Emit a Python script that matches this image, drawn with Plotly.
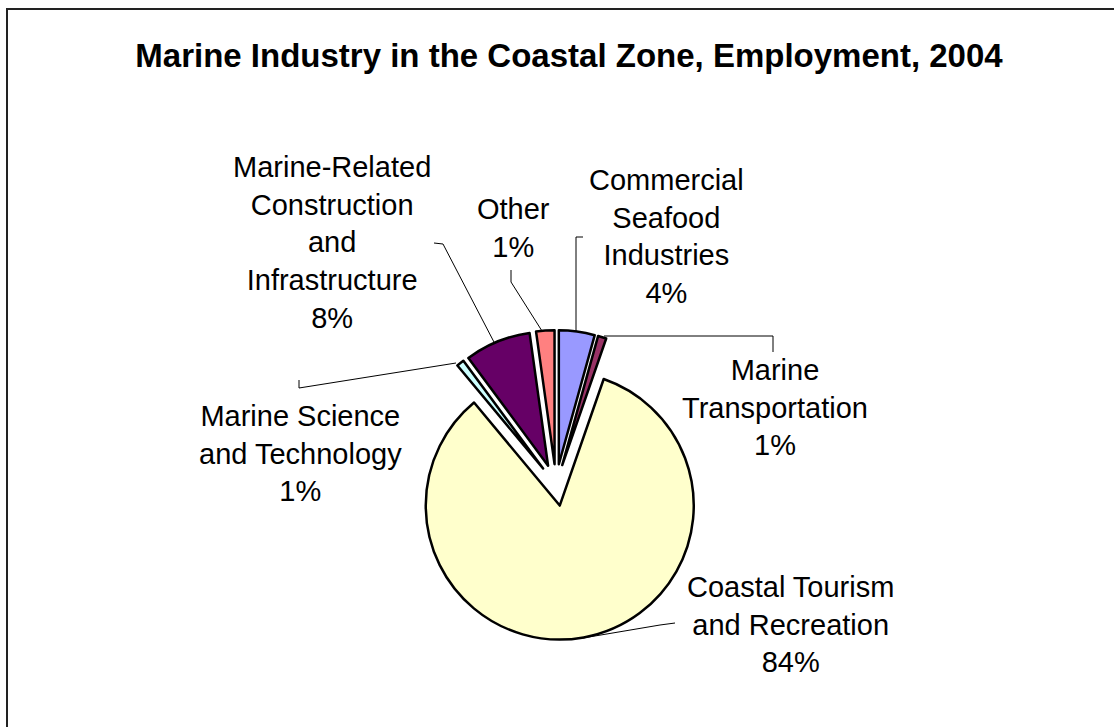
import plotly.graph_objects as go

# ---- data ----
categories = [
    "Commercial Seafood Industries",
    "Marine Transportation",
    "Coastal Tourism and Recreation",
    "Marine Science and Technology",
    "Marine-Related Construction and Infrastructure",
    "Other",
]
values = [4.3, 1.0, 83.3, 0.9, 7.9, 2.2]
label_lines = [
    ["Commercial", "Seafood", "Industries"],
    ["Marine", "Transportation"],
    ["Coastal Tourism", "and Recreation"],
    ["Marine Science", "and Technology"],
    ["Marine-Related", "Construction", "and", "Infrastructure"],
    ["Other"],
]
percent_labels = ["4%", "1%", "84%", "1%", "8%", "1%"]
colors = ["#9999FF", "#993366", "#FFFFCC", "#CCFFFF", "#660066", "#FF8080"]

W, H = 1114, 727


def px(x):
    return x / W


def py(y):
    return 1 - y / H


# pie geometry (pixels)
cx, cy, r, pull = 556, 485, 134, 0.156
box = 2 * r * (1 + pull)

fig = go.Figure(
    go.Pie(
        labels=categories,
        values=values,
        sort=False,
        direction="clockwise",
        rotation=0,
        pull=[pull] * len(values),
        marker=dict(colors=colors, line=dict(color="black", width=2.5)),
        textinfo="none",
        hoverinfo="label+percent",
        domain=dict(
            x=[px(cx - box / 2), px(cx + box / 2)],
            y=[py(cy + box / 2), py(cy - box / 2)],
        ),
        showlegend=False,
    )
)

# label placement (pixel centres of text blocks)
label_pos = [(666, 236), (775, 407), (790, 624), (300, 453), (332, 243), (513, 228)]
annotations = []
for lines, pct, (x, y) in zip(label_lines, percent_labels, label_pos):
    annotations.append(
        dict(
            text="<br>".join(lines + [pct]),
            x=px(x), y=py(y), xref="paper", yref="paper",
            xanchor="center", yanchor="middle", showarrow=False,
            font=dict(family="Liberation Sans, Arial", size=29, color="black"),
        )
    )

# leader lines (pixel paths)
leaders = [
    [(583, 237), (576, 237), (576, 331)],
    [(604, 336), (773, 336), (773, 352)],
    [(675, 623), (660, 625), (583, 638)],
    [(299, 380), (299, 388), (456, 363)],
    [(434, 243), (443, 244), (495, 344)],
    [(511, 270), (511, 282), (542, 331)],
]
shapes = []
for pts in leaders:
    path = "M " + " L ".join(f"{px(x)},{py(y)}" for x, y in pts)
    shapes.append(dict(type="path", path=path, xref="paper", yref="paper",
                       line=dict(color="black", width=1)))

# chart frame
shapes.append(dict(type="rect", xref="paper", yref="paper",
                   x0=px(7), x1=px(W + 10), y0=py(H + 10), y1=py(9),
                   line=dict(color="#222222", width=2), fillcolor="rgba(0,0,0,0)"))

fig.update_layout(
    width=W, height=H,
    margin=dict(l=0, r=0, t=0, b=0),
    paper_bgcolor="white",
    plot_bgcolor="white",
    title=dict(
        text="<b>Marine Industry in the Coastal Zone, Employment, 2004</b>",
        x=px(569), y=py(55), xref="paper", yref="paper",
        xanchor="center", yanchor="middle",
        font=dict(family="Liberation Sans, Arial", size=33, color="black"),
    ),
    annotations=annotations,
    shapes=shapes,
)

fig.write_html(
    "out.html",
    config={"displayModeBar": False},
    post_script="document.body.style.margin='0';document.body.style.overflow='hidden';",
)
